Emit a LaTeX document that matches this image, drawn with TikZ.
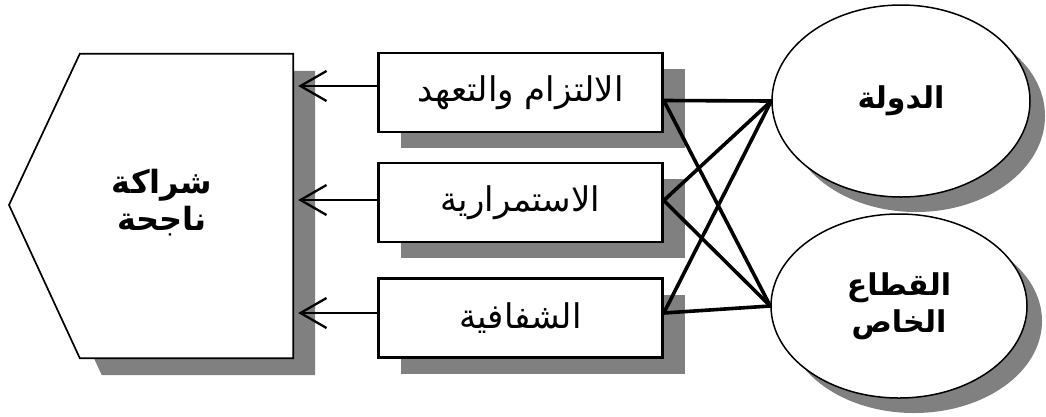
\documentclass[tikz,border=0pt]{standalone}
\usepackage{fontspec}
\TeXXeTstate=1
\newfontfamily\arabicfont[Script=Arabic]{DejaVu Sans}
\usetikzlibrary{arrows.meta,shadows,shapes.geometric}
\definecolor{shadowgray}{RGB}{128,128,128}
\tikzset{
  boxshadow/.style={drop shadow={shadow xshift=22pt,shadow yshift=-16pt,fill=shadowgray,opacity=1}},
  itembox/.style={draw=black,line width=2.6pt,fill=white,minimum width=284pt,minimum height=79pt,inner sep=0pt,boxshadow,
     font=\arabicfont\fontsize{34}{38}\selectfont},
  actor/.style={ellipse,draw=black,line width=1.5pt,fill=white,inner sep=0pt,
     drop shadow={shadow xshift=15pt,shadow yshift=-15pt,fill=shadowgray,opacity=1},
     font=\arabicfont\bfseries\fontsize{30}{37}\selectfont,align=center},
  link/.style={line width=3.6pt,line cap=round},
  feed/.style={line width=2.3pt,-{Straight Barb[length=26pt,width=30pt,line width=2.3pt]}},
  boldtext/.style={font=\arabicfont\bfseries\fontsize{32}{37}\selectfont,align=center}
}
\begin{document}
\begin{tikzpicture}[x=1pt,y=-1pt]
\useasboundingbox[fill=white] (0,0) rectangle (1046,416);
% pentagon frame (rectangular part as invisible node)
\node[minimum width=213pt,minimum height=304pt,inner sep=0pt] (pent) at (186.5,206) {};
\coordinate (tip) at (9,205);
\fill[shadowgray] ([xshift=22pt,yshift=-17pt]pent.north west) -- ([xshift=22pt,yshift=-17pt]pent.north east)
   -- ([xshift=22pt,yshift=-17pt]pent.south east) -- ([xshift=22pt,yshift=-17pt]pent.south west)
   -- ([xshift=22pt,yshift=-17pt]tip) -- cycle;
\draw[line width=1.7pt,fill=white,line join=miter] (pent.north west) -- (pent.north east) -- (pent.south east)
   -- (pent.south west) -- (tip) -- cycle;
\node[boldtext] (ptext) at (162,203) {\beginR شراكة\endR\\\beginR ناجحة\endR};
% item boxes
\node[itembox] (b1) at (520.5,92.5) {\beginR الالتزام والتعهد\endR};
\node[itembox] (b2) at (520.5,202.5) {\beginR الاستمرارية\endR};
\node[itembox] (b3) at (520.5,318) {\beginR الشفافية\endR};
% actors
\node[actor,minimum width=258pt,minimum height=192pt] (e1) at (901,101) {\beginR الدولة\endR};
\node[actor,minimum width=256pt,minimum height=184pt] (e2) at (899,306) {\beginR القطاع\endR\\\beginR الخاص\endR};
% links
\draw[link] ([yshift=-8pt]b1.east) -- (e1.west);
\draw[link] ([yshift=-8pt]b1.east) -- (e2.west);
\draw[link] ([yshift=2pt]b2.east) -- (e1.west);
\draw[link] ([yshift=2pt]b2.east) -- (e2.west);
\draw[link] ([yshift=5pt]b3.east) -- (e1.west);
\draw[link] ([yshift=5pt]b3.east) -- (e2.west);
% arrows
\draw[feed] ([yshift=6.5pt]b1.west) -- ([yshift=6.5pt,xshift=5pt]pent.east |- b1.west);
\draw[feed] ([yshift=2.5pt]b2.west) -- ([yshift=2.5pt,xshift=5pt]pent.east |- b2.west);
\draw[feed] ([yshift=5pt]b3.west) -- ([yshift=5pt,xshift=5pt]pent.east |- b3.west);
\end{tikzpicture}
\end{document}
